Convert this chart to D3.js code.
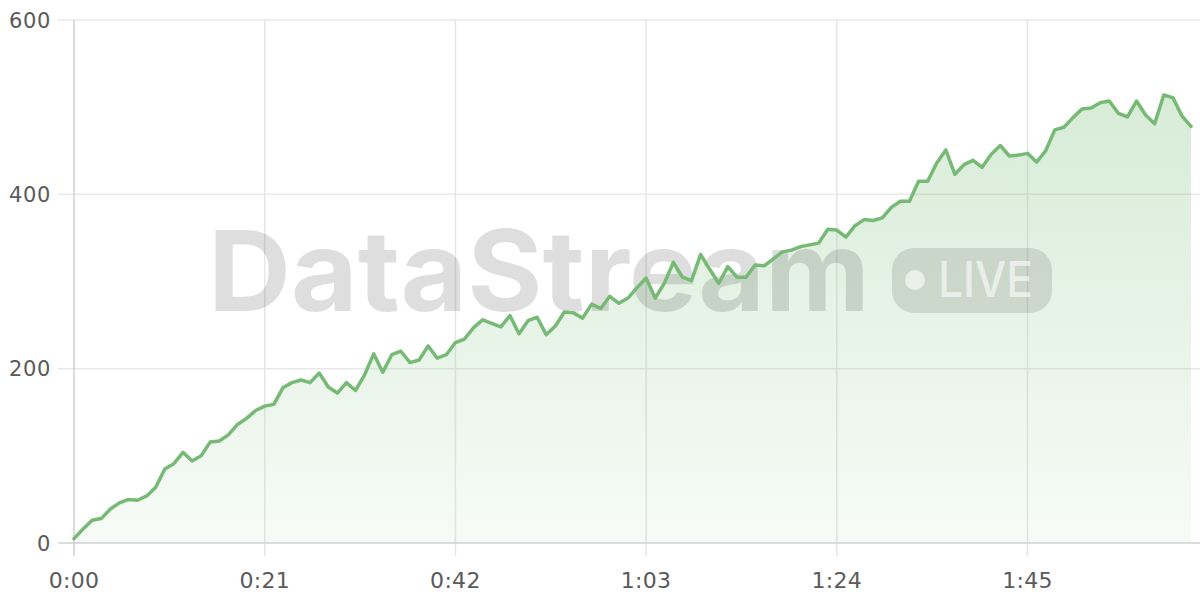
<!DOCTYPE html>
<html>
<head>
<meta charset="utf-8">
<script src="https://cdn.jsdelivr.net/npm/d3@7"></script>
<style>
  html, body { margin: 0; padding: 0; background: #fff; }
  svg { display: block; }
</style>
</head>
<body>
<svg id="chart" width="1200" height="600"></svg>
<script>
// ---- data ----
const seconds = d3.range(0, 124);
const values = [
  5, 16, 26, 28, 39, 46, 50, 49, 54, 64,
  85, 91, 104, 94, 100, 116, 117, 124, 136, 143,
  152, 157, 159, 178, 184, 187, 184, 195, 179, 172,
  184, 175, 193, 217, 196, 216, 220, 207, 210, 226,
  212, 216, 230, 234, 247, 256, 252, 248, 261, 240,
  255, 259, 239, 249, 265, 264, 258, 274, 269, 283,
  275, 281, 293, 304, 281, 298, 322, 305, 301, 331,
  314, 298, 317, 305, 305, 319, 318, 326, 334, 336,
  340, 342, 344, 360, 359, 351, 364, 371, 370, 373,
  385, 392, 392, 415, 415, 436, 451, 423, 434, 439,
  431, 446, 456, 444, 445, 447, 437, 450, 474, 477,
  488, 498, 499, 505, 507, 493, 489, 507, 491, 481,
  514, 511, 490, 478
];
const xTicks = [0, 21, 42, 63, 84, 105];
const xTickLabels = ["0:00", "0:21", "0:42", "1:03", "1:24", "1:45"];
const yTicks = [0, 200, 400, 600];
const watermarkText = "DataStream";
const badgeText = "LIVE";

const data = seconds.map((s, i) => ({ s, v: values[i] }));

// ---- layout ----
const svg = d3.select("#chart");
const mLeft = 74, mRight = 1191, mTop = 20, mBottom = 543;
const x = d3.scaleLinear().domain([0, 123]).range([mLeft, mRight]);
const y = d3.scaleLinear().domain([0, 600]).range([mBottom, mTop]);

const defs = svg.append("defs");
const grad = defs.append("linearGradient")
  .attr("id", "areaGrad").attr("gradientUnits", "userSpaceOnUse")
  .attr("x1", 0).attr("x2", 0).attr("y1", y(520)).attr("y2", y(0));
grad.append("stop").attr("offset", "0%").attr("stop-color", "rgb(120,190,120)").attr("stop-opacity", 0.30);
grad.append("stop").attr("offset", "100%").attr("stop-color", "rgb(120,190,120)").attr("stop-opacity", 0.06);

// horizontal grid
svg.append("g").selectAll("line").data(yTicks.filter(t => t !== 0)).join("line")
  .attr("x1", 58).attr("x2", 1200)
  .attr("y1", d => y(d)).attr("y2", d => y(d))
  .attr("stroke", "#e8e8e8").attr("stroke-width", 1.5);

// vertical grid
svg.append("g").selectAll("line").data(xTicks.filter(t => t !== 0)).join("line")
  .attr("x1", d => x(d)).attr("x2", d => x(d))
  .attr("y1", mTop).attr("y2", mBottom + 13)
  .attr("stroke", "#e6e6e6").attr("stroke-width", 1.5);

// area
const area = d3.area().x(d => x(d.s)).y0(y(0)).y1(d => y(d.v));
svg.append("path").datum(data).attr("d", area).attr("fill", "url(#areaGrad)");

// axes lines
svg.append("line").attr("x1", mLeft).attr("x2", mLeft).attr("y1", mTop).attr("y2", mBottom + 13)
  .attr("stroke", "#d0d0d0").attr("stroke-width", 1.5);
svg.append("line").attr("x1", 58).attr("x2", 1200).attr("y1", mBottom).attr("y2", mBottom)
  .attr("stroke", "#d0d0d0").attr("stroke-width", 1.5);

// watermark
const wm = svg.append("g").attr("fill", "rgba(0,0,0,0.13)");
wm.append("text")
  .attr("x", 208).attr("y", 311)
  .attr("font-family", "Inter, 'Liberation Sans', sans-serif")
  .attr("font-weight", 700).attr("font-size", 112)
  .attr("textLength", 662).attr("lengthAdjust", "spacingAndGlyphs")
  .text(watermarkText);
const badge = svg.append("g");
badge.append("rect").attr("x", 892).attr("y", 248).attr("width", 160).attr("height", 65)
  .attr("rx", 22).attr("fill", "rgba(0,0,0,0.11)");
badge.append("circle").attr("cx", 915).attr("cy", 280).attr("r", 10)
  .attr("fill", "rgba(255,255,255,0.6)");
badge.append("text").attr("x", 938).attr("y", 297)
  .attr("font-family", "Inter, 'Liberation Sans', sans-serif")
  .attr("font-weight", 500).attr("font-size", 50)
  .attr("textLength", 95).attr("lengthAdjust", "spacingAndGlyphs")
  .attr("fill", "rgba(255,255,255,0.6)")
  .text(badgeText);

// line
const line = d3.line().x(d => x(d.s)).y(d => y(d.v));
svg.append("path").datum(data).attr("d", line)
  .attr("fill", "none").attr("stroke", "#76ba76").attr("stroke-width", 3.5)
  .attr("stroke-linejoin", "round").attr("stroke-linecap", "round");

// y labels
svg.append("g").selectAll("text").data(yTicks).join("text")
  .attr("x", 51).attr("y", d => y(d) + 7.5)
  .attr("text-anchor", "end")
  .attr("font-family", "'DejaVu Sans', sans-serif").attr("font-size", 21)
  .attr("letter-spacing", 0.6)
  .attr("fill", "#5a5a5a")
  .text(d => d3.format("d")(d));

// x labels
svg.append("g").selectAll("text").data(xTicks).join("text")
  .attr("x", d => x(d)).attr("y", 588)
  .attr("text-anchor", "middle")
  .attr("font-family", "'DejaVu Sans', sans-serif").attr("font-size", 22)
  .attr("letter-spacing", 0.3)
  .attr("fill", "#5a5a5a")
  .text((d, i) => xTickLabels[i]);
</script>
</body>
</html>
